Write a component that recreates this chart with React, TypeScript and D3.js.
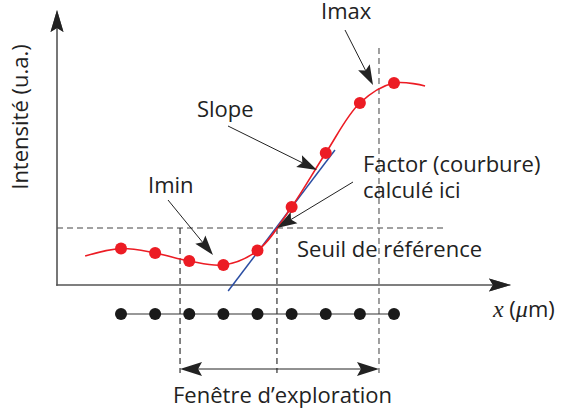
import React from 'react';
import * as d3 from 'd3';

// sampled positions (index) and measured intensity (u.a.)
const sampleIdx = [1, 2, 3, 4, 5, 6, 7, 8, 9];
const intensity = [1.82, 1.6, 1.2, 1.0, 1.72, 3.9, 6.6, 9.1, 10.1];
// the fitted curve runs a bit past the first and last samples
const curveStart = [-0.05, 1.45];
const curveEnd = [9.91, 9.95];

const threshold = 2.85;
const windowStart = 2.73;
const crossing = 5.57;
const windowEnd = 8.56;
const slopeFrom = [4.14, -0.3];
const slopeTo = [7.27, 6.75];

const W = 566;
const H = 416;
const origin = { x: 57, y: 285 };
const gridY = 314;
const font = '"Open Sans", sans-serif';

const x = d3.scaleLinear().domain([1, 9]).range([121, 394]);
const y = d3.scaleLinear().domain([0, 10]).range([285, 85]);

const headPath = (len: number, wid: number) =>
  `M0,0 L${-len},${-wid / 2} L${-len * 0.82},0 L${-len},${wid / 2} Z`;

function Arrow({ x1, y1, x2, y2, len = 20, wid = 13, color = '#222', sw = 1 }: any) {
  const a = Math.atan2(y2 - y1, x2 - x1);
  const bx = x2 - Math.cos(a) * len * 0.8;
  const by = y2 - Math.sin(a) * len * 0.8;
  return (
    <g>
      {sw > 0 && <line x1={x1} y1={y1} x2={bx} y2={by} stroke={color} strokeWidth={sw} />}
      <path d={headPath(len, wid)} fill={color}
        transform={`translate(${x2},${y2}) rotate(${(a * 180) / Math.PI})`} />
    </g>
  );
}

export default function App() {
  const curvePts: [number, number][] = [
    [curveStart[0], curveStart[1]],
    ...sampleIdx.map((d, i) => [d, intensity[i]] as [number, number]),
    [curveEnd[0], curveEnd[1]],
  ];
  const line = d3.line<[number, number]>()
    .x(d => x(d[0]))
    .y(d => y(d[1]))
    .curve(d3.curveCatmullRom.alpha(0.5));

  const yT = y(threshold);
  const arrowY = 369;
  const dashBottom = 373;

  return (
    <svg width={W} height={H} style={{ position: 'absolute', left: 0, top: 0, background: '#fff' }}
      fontFamily={font} fontSize={22} fill="#222">
      {/* threshold + window lines */}
      <line x1={origin.x} x2={446} y1={yT} y2={yT} stroke="#444" strokeDasharray="6,4" strokeWidth={1.2} />
      <line x1={x(windowStart)} x2={x(windowStart)} y1={yT} y2={dashBottom} stroke="#333" strokeDasharray="6,4" strokeWidth={1.2} />
      <line x1={x(crossing)} x2={x(crossing)} y1={yT} y2={dashBottom} stroke="#333" strokeDasharray="6,4" strokeWidth={1.2} />
      <line x1={x(windowEnd)} x2={x(windowEnd)} y1={48} y2={dashBottom} stroke="#808080" strokeDasharray="6,4" strokeWidth={1.5} />

      {/* axes */}
      <Arrow x1={origin.x} y1={origin.y + 0.8} x2={origin.x} y2={10} len={22} wid={13} color="#555" sw={1.6} />
      <Arrow x1={origin.x - 0.8} y1={origin.y} x2={511} y2={origin.y} len={22} wid={13} color="#555" sw={1.6} />
      <Arrow x1={origin.x} y1={origin.y} x2={origin.x} y2={10} len={22} wid={13} color="#222" sw={0} />
      <Arrow x1={origin.x} y1={origin.y} x2={511} y2={origin.y} len={22} wid={13} color="#222" sw={0} />

      {/* sampling grid */}
      <line x1={x(1)} x2={x(9)} y1={gridY} y2={gridY} stroke="#333" strokeWidth={1.2} />
      {sampleIdx.map(d => (
        <circle key={'g' + d} cx={x(d)} cy={gridY} r={6} fill="#1a1a1a" />
      ))}

      {/* slope tangent */}
      <line x1={x(slopeFrom[0])} y1={y(slopeFrom[1])} x2={x(slopeTo[0])} y2={y(slopeTo[1])}
        stroke="#2b4ea3" strokeWidth={1.5} />

      {/* intensity profile */}
      <path d={line(curvePts) || ''} fill="none" stroke="#ec1c24" strokeWidth={1.6} />
      {sampleIdx.map((d, i) => (
        <circle key={'r' + d} cx={x(d)} cy={y(intensity[i])} r={6} fill="#ec1c24" />
      ))}

      {/* window arrow */}
      <Arrow x1={(x(windowStart) + x(windowEnd)) / 2} y1={arrowY} x2={x(windowStart)} y2={arrowY} len={22} wid={14} />
      <Arrow x1={(x(windowStart) + x(windowEnd)) / 2} y1={arrowY} x2={x(windowEnd)} y2={arrowY} len={22} wid={14} />

      {/* annotations */}
      <Arrow x1={345} y1={30} x2={373} y2={85} />
      <Arrow x1={228} y1={126} x2={317} y2={170} />
      <Arrow x1={353} y1={182} x2={x(crossing)} y2={yT} />
      <Arrow x1={168} y1={200} x2={213} y2={255} />

      <text x={321} y={19}>Imax</text>
      <text x={197} y={117}>Slope</text>
      <text x={148} y={193}>Imin</text>
      <text x={363} y={172}>Factor (courbure)</text>
      <text x={363} y={198}>calculé ici</text>
      <text x={297} y={257}>Seuil de référence</text>
      <text x={173} y={403}>Fenêtre d’exploration</text>
      <text transform="translate(28,117) rotate(-90)" textAnchor="middle">Intensité (u.a.)</text>
      <text x={493} y={317}>
        <tspan fontFamily='"Liberation Serif", serif' fontStyle="italic" fontSize={24}>x</tspan>
        <tspan> (</tspan>
        <tspan fontFamily='"Liberation Serif", serif' fontStyle="italic" fontSize={24}>μ</tspan>
        <tspan>m)</tspan>
      </text>
    </svg>
  );
}
